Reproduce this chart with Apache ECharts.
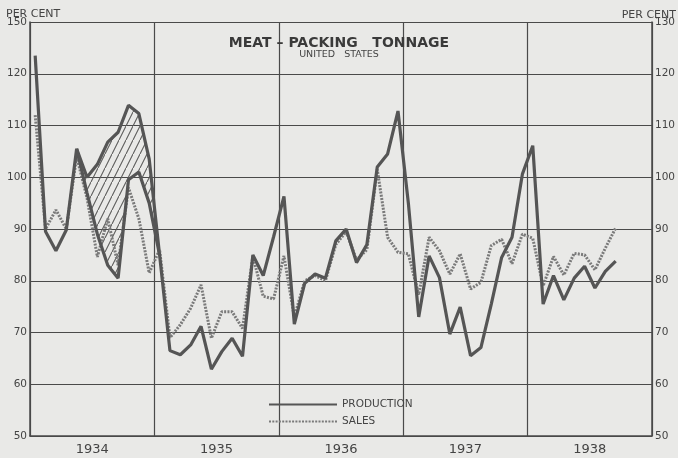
<!DOCTYPE html>
<html>
<head>
<meta charset="utf-8">
<script src="https://cdn.jsdelivr.net/npm/echarts@6/dist/echarts.min.js"></script>
<style>
  html, body { margin: 0; padding: 0; background: #e9e9e7; }
  #chart { width: 678px; height: 458px; }
</style>
</head>
<body>
<div id="chart"></div>
<script>
const years = ['1934', '1935', '1936', '1937', '1938'];
const months = [];
years.forEach(y => { for (let m = 1; m <= 12; m++) months.push(y + '-' + m); });

// monthly index numbers, Jan 1934 .. Sep 1938
const production = [
  123.5, 89.5, 85.8, 89.8, 105.5, 97, 89, 83, 80.5, 99.5, 101, 95,
  85, 66.5, 65.7, 67.6, 71.2, 62.9, 66.3, 68.9, 65.4, 85, 81, 88.5,
  96.3, 71.6, 79.5, 81.3, 80.5, 87.7, 90, 83.5, 87, 102, 104.5, 112.8,
  95, 73, 84.8, 80.6, 69.7, 74.9, 65.5, 67.1, 75.5, 84.5, 88.4, 100.6,
  106.1, 75.5, 81, 76.3, 80.5, 82.8, 78.6, 81.8, 83.8
];
const sales = [
  112, 90, 93.7, 90, 104, 96, 84.6, 92, 83, 98, 92, 81.5,
  86, 69, 71.5, 74.7, 79.2, 68.9, 74, 74, 70.8, 84.7, 77, 76.5,
  84.8, 73, 80, 81, 80, 87, 89.5, 84, 86, 101.5, 88.4, 85.5,
  85.2, 77.3, 88.4, 85.8, 81.3, 85.2, 78.4, 79.7, 86.8, 88, 83.3, 89,
  88.2, 79, 84.7, 81.1, 85.3, 85, 82.1, 86.3, 90.2
];
// production including the extra 1934 tonnage (upper edge of the hatched band), May 1934 on
const hatchStart = 4;
const productionTotal = [105.5, 100, 102.5, 106.8, 108.7, 113.9, 112.3, 103.5, 85];

const leftTicks = ['50', '60', '70', '80', '90', '100', '110', '120', '150'];
const rightTicks = ['50', '60', '70', '80', '90', '100', '110', '120', '130'];

const FONT = 'DejaVu Sans';
const INK = '#4a4a4a';

// diagonal hatch pattern
const hatch = document.createElement('canvas');
hatch.width = 7; hatch.height = 14;
const hc = hatch.getContext('2d');
hc.strokeStyle = '#5a5a5a';
hc.lineWidth = 0.8;
hc.beginPath();
hc.moveTo(-7, 28); hc.lineTo(7, 0);
hc.moveTo(0, 14); hc.lineTo(14, -14);
hc.moveTo(0, 28); hc.lineTo(14, 0);
hc.stroke();

const bandBase = months.map((_, i) => {
  const k = i - hatchStart;
  return (k >= 0 && k < productionTotal.length) ? production[i] : '-';
});
const bandDiff = months.map((_, i) => {
  const k = i - hatchStart;
  return (k >= 0 && k < productionTotal.length) ? +(productionTotal[k] - production[i]).toFixed(2) : '-';
});

const chart = echarts.init(document.getElementById('chart'));

const option = {
  backgroundColor: '#e9e9e7',
  animation: false,
  textStyle: { fontFamily: FONT },
  title: {
    text: 'MEAT \u2013 PACKING   TONNAGE',
    subtext: 'UNITED   STATES',
    left: 'center',
    top: 31,
    itemGap: 0,
    textStyle: { fontFamily: FONT, fontSize: 14, fontWeight: 'bold', color: '#3a3a3a' },
    subtextStyle: { fontFamily: FONT, fontSize: 9.5, color: '#444' }
  },
  legend: {
    data: ['PRODUCTION', 'SALES'],
    orient: 'vertical',
    left: 268,
    top: 399,
    padding: 0,
    itemWidth: 68,
    itemHeight: 10,
    itemGap: 6,
    itemStyle: { opacity: 0 },
    textStyle: { fontFamily: FONT, fontSize: 10.5, color: '#444' }
  },
  graphic: [
    { type: 'text', left: 6, top: 9, style: { text: 'PER CENT', font: '11px "DejaVu Sans"', fill: '#444' } },
    { type: 'text', right: 2, top: 10, style: { text: 'PER CENT', font: '11px "DejaVu Sans"', fill: '#444' } }
  ],
  grid: { left: 30, right: 23, top: 22, bottom: 22 },
  xAxis: [
    { type: 'category', data: months, boundaryGap: true, show: false },
    {
      type: 'category', data: years, boundaryGap: true, position: 'bottom',
      axisLine: { lineStyle: { color: INK, width: 1.5 } },
      axisTick: { show: false },
      axisLabel: { fontFamily: FONT, fontSize: 13, color: '#444', margin: 7 },
      splitLine: { show: true, lineStyle: { color: INK, width: 1.2 } }
    }
  ],
  yAxis: [
    {
      type: 'value', min: 50, max: 130, interval: 10,
      axisLine: { show: true, lineStyle: { color: INK, width: 1.5 } },
      axisTick: { show: false },
      axisLabel: {
        fontFamily: FONT, fontSize: 10.5, color: '#444', margin: 3,
        formatter: v => leftTicks[Math.round((v - 50) / 10)]
      },
      splitLine: { lineStyle: { color: INK, width: 1.2 } }
    },
    {
      type: 'value', min: 50, max: 130, interval: 10, position: 'right',
      axisLine: { show: true, lineStyle: { color: INK, width: 1.5 } },
      axisTick: { show: false },
      axisLabel: {
        fontFamily: FONT, fontSize: 10.5, color: '#444', margin: 3,
        formatter: v => rightTicks[Math.round((v - 50) / 10)]
      },
      splitLine: { show: false }
    }
  ],
  series: [
    {
      name: 'band base', type: 'line', stack: 'band', data: bandBase,
      symbol: 'none', silent: true, lineStyle: { opacity: 0 }, z: 2
    },
    {
      name: 'band', type: 'line', stack: 'band', data: bandDiff,
      symbol: 'none', silent: true,
      lineStyle: { color: '#555', width: 3.2 },
      areaStyle: { color: { image: hatch, repeat: 'repeat' }, opacity: 1 },
      z: 2
    },
    {
      name: 'PRODUCTION', type: 'line', data: production, symbol: 'none',
      lineStyle: { color: '#555', width: 3.2 },
      itemStyle: { color: '#555' }, z: 4
    },
    {
      name: 'SALES', type: 'line', data: sales, symbol: 'none',
      lineStyle: { color: '#7a7a7a', width: 3, type: [2, 1.3] },
      itemStyle: { color: '#7a7a7a' }, z: 3
    }
  ]
};

chart.setOption(option);
</script>
</body>
</html>
